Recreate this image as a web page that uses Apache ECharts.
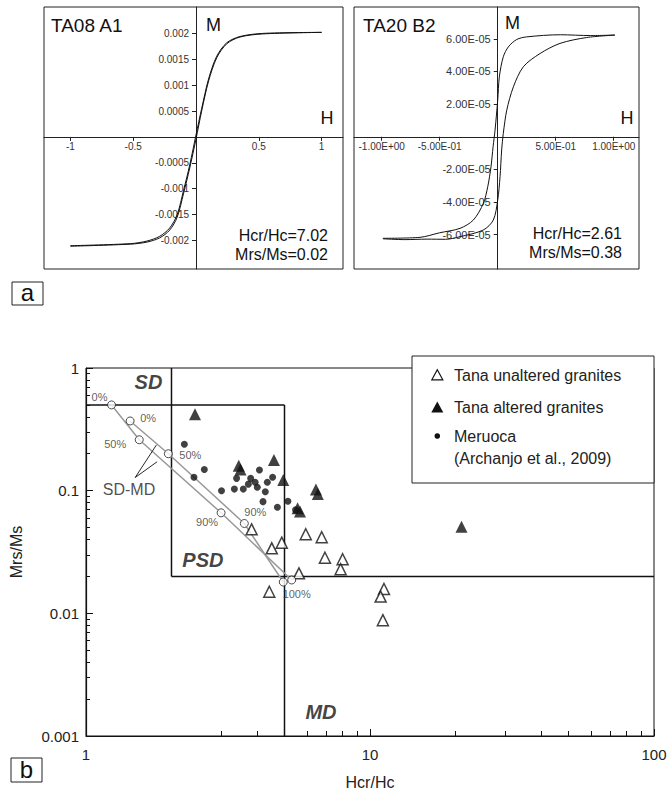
<!DOCTYPE html>
<html><head><meta charset="utf-8">
<script src="https://cdn.jsdelivr.net/npm/echarts@6/dist/echarts.min.js"></script>
<style>html,body{margin:0;padding:0;background:#fff}#c{width:671px;height:795px}</style>
</head><body><div id="c"></div>
<script>
// ---------- Panel a, left: TA08 A1 ----------
const a1UpH  = [1.0, 0.53, 0.35, 0.245, 0.165, 0.10, 0.045, 0, -0.05, -0.10, -0.15, -0.21, -0.29, -0.39, -0.52, -1.0];
const a1UpM  = [0.00202, 0.00200, 0.00194, 0.00182, 0.00156, 0.00112, 0.00055, 0.00004, -0.00054, -0.00104, -0.00150, -0.00176, -0.00192, -0.00201, -0.00206, -0.00210];
const a1LoH  = [-1.0, -0.52, -0.39, -0.29, -0.21, -0.15, -0.10, -0.05, 0, 0.045, 0.10, 0.165, 0.245, 0.35, 0.53, 1.0];
const a1LoM  = [-0.00211, -0.00207, -0.00203, -0.00195, -0.00180, -0.00155, -0.00110, -0.00060, -0.00004, 0.00050, 0.00108, 0.00153, 0.00180, 0.00193, 0.00199, 0.00202];
const a1XTicks = [-1, -0.5, 0.5, 1];
const a1YTicks = [-0.002, -0.0015, -0.001, -0.0005, 0.0005, 0.001, 0.0015, 0.002];

// ---------- Panel a, right: TA20 B2 ----------
const b2UpH = [1.01, 0.80, 0.54, 0.25, 0.164, 0.092, 0.048, 0.014, 0, -0.023, -0.04, -0.058, -0.086, -0.124, -0.21, -0.325, -0.50, -0.67, -0.99];
const b2UpM = [6.23e-5, 6.20e-5, 6.25e-5, 6.12e-5, 5.96e-5, 5.51e-5, 4.90e-5, 3.67e-5, 2.25e-5, 0.41e-5, -0.61e-5, -1.84e-5, -3.06e-5, -4.08e-5, -5.10e-5, -5.61e-5, -5.88e-5, -6.16e-5, -6.22e-5];
const b2LoH = [-0.99, -0.80, -0.61, -0.45, -0.325, -0.124, -0.038, 0, 0.02, 0.034, 0.048, 0.078, 0.135, 0.221, 0.365, 0.537, 0.767, 1.01];
const b2LoM = [-6.25e-5, -6.30e-5, -6.27e-5, -6.28e-5, -6.12e-5, -5.71e-5, -5.10e-5, -3.88e-5, -2.45e-5, -0.81e-5, 0.20e-5, 1.63e-5, 3.06e-5, 4.29e-5, 5.10e-5, 5.72e-5, 6.08e-5, 6.23e-5];
const b2XTicks = [-1, -0.5, 0.5, 1];
const b2YTicks = [-6e-5, -4e-5, -2e-5, 2e-5, 4e-5, 6e-5];

// ---------- Panel b: Day plot ----------
const unaltered = [[3.83,0.0484],[4.51,0.0339],[4.89,0.0377],[5.94,0.0441],[6.76,0.0417],[6.94,0.0284],[8.01,0.0276],[7.88,0.0229],[5.62,0.0212],[4.42,0.0150],[11.2,0.0158],[10.9,0.0137],[11.1,0.0088]];
const altered = [[2.42,0.419],[3.45,0.160],[3.50,0.149],[4.59,0.178],[4.95,0.122],[6.45,0.102],[6.55,0.094],[5.56,0.0718],[5.67,0.0675],[21.0,0.0509]];
const meruoca = [[2.22,0.239],[2.40,0.1286],[2.61,0.149],[3.00,0.100],[3.33,0.103],[3.58,0.103],[3.73,0.113],[3.39,0.126],[3.80,0.126],[4.08,0.1475],[3.94,0.117],[4.01,0.1066],[4.35,0.117],[4.54,0.1286],[4.28,0.098],[4.20,0.0814],[4.72,0.0732],[5.14,0.0819],[5.47,0.0697]];
const mixA = [[1.23,0.50],[1.54,0.26],[2.99,0.066],[5.30,0.0187]];
const mixB = [[1.43,0.37],[1.95,0.20],[3.61,0.054],[4.95,0.018]];
const mixLabelsA = ['0%','50%','90%','100%'];
const mixLabelsB = ['0%','50%','90%',''];
const sdTop = [[1,0.5],[5,0.5]];
const sdRight = [[2,1],[2,0.02]];
const mdLeft = [[5,0.5],[5,0.001]];
const psdBottom = [[2,0.02],[100,0.02]];
const leader = [[1.77,0.236],[1.49,0.128],[1.78,0.172]];
const regionNames = ['SD','PSD','MD'];
const regionPos = [[1.66,0.773],[2.58,0.0272],[6.72,0.00158]];
const mixName = 'SD-MD';
const mixNamePos = [1.417,0.1014];
const xMinorTicks = [3,4,6,7,8,9,20,30,40,50,60,70,80,90];
const yMinorTicks = [0.002,0.003,0.004,0.005,0.006,0.007,0.008,0.009,0.02,0.03,0.04,0.05,0.06,0.07,0.08,0.09,0.2,0.3,0.4,0.5,0.6,0.7,0.8,0.9];

const FONT = "'Liberation Sans', Arial, Helvetica, sans-serif";
const zip = (xs, ys) => xs.map((x, i) => [x, ys[i]]);
const expFmt = v => Number(v).toExponential(2).toUpperCase().replace(/E([+-])(\d)$/, 'E$10$2');

// panel grids (pixel boxes of the frames)
const G0 = {left:44, top:7, width:299, height:262};
const G1 = {left:354, top:7, width:285, height:262};
const R0 = {xmin:-1.21, xmax:1.17, ymin:-0.00255, ymax:0.00251};
const R1 = {xmin:-1.239, xmax:1.218, ymin:-8.1e-5, ymax:7.95e-5};
// offsets that put the axes through zero (inside the frame)
const yOff = (g, r) => -g.width * (0 - r.xmin) / (r.xmax - r.xmin);
const xOff = (g, r) => -g.height * (0 - r.ymin) / (r.ymax - r.ymin);

function panelX(gi, g, r, ticks, fmt) {
  return {type:'value', gridIndex:gi, min:r.xmin, max:r.xmax, position:'bottom', offset:xOff(g, r), splitLine:{show:false},
    axisLine:{onZero:false, lineStyle:{color:'#222', width:1}},
    axisTick:{customValues:ticks, length:4, lineStyle:{color:'#222'}},
    axisLabel:{customValues:ticks, formatter:fmt, fontSize:10, color:'#333', margin:5, fontFamily:FONT}};
}
function panelY(gi, g, r, ticks, fmt, fs) {
  return {type:'value', gridIndex:gi, min:r.ymin, max:r.ymax, position:'left', offset:yOff(g, r), splitLine:{show:false},
    axisLine:{onZero:false, lineStyle:{color:'#222', width:1}},
    axisTick:{customValues:ticks, length:4, lineStyle:{color:'#222'}},
    axisLabel:{customValues:ticks, formatter:fmt, fontSize:fs, color:'#333', margin:7, fontFamily:FONT}};
}
const loop = (gi, data) => ({type:'line', xAxisIndex:gi, yAxisIndex:gi, data:data, symbol:'none', smooth:0.3,
  lineStyle:{color:'#111', width:1}, silent:true, animation:false});
const seg = (data, color, width) => ({type:'line', xAxisIndex:2, yAxisIndex:2, data:data, symbol:'none',
  lineStyle:{color:color, width:width}, silent:true, animation:false, z:2});

const labelOffA = [[-12,-8],[-24,4],[-14,9],[5,14]];
const labelOffB = [[18,-3],[22,1],[11,-11],[0,0]];
const pctLabel = (txt, off) => ({show: !!txt, formatter: txt, position:'inside', offset:off, color:'#333', fontSize:11, fontFamily:FONT});
const mixPoints = mixA.map((v, i) => ({value:v, label:pctLabel(mixLabelsA[i], labelOffA[i])}))
  .concat(mixB.map((v, i) => ({value:v, label:pctLabel(mixLabelsB[i], labelOffB[i])})));

const option = {
  animation:false,
  backgroundColor:'#fff',
  textStyle:{fontFamily:FONT},
  grid:[
    Object.assign({show:true, borderColor:'#222', borderWidth:1}, G0),
    Object.assign({show:true, borderColor:'#222', borderWidth:1}, G1),
    {left:86, top:368, width:568, height:368, show:true, borderColor:'#111', borderWidth:1}
  ],
  xAxis:[
    panelX(0, G0, R0, a1XTicks, v => String(v)),
    panelX(1, G1, R1, b2XTicks, expFmt),
    {type:'log', gridIndex:2, min:1, max:100, logBase:10, position:'bottom', splitLine:{show:false},
      axisLine:{lineStyle:{color:'#111', width:1.2}},
      axisTick:{inside:true, length:7, lineStyle:{color:'#111'}},
      axisLabel:{fontSize:15, color:'#222', margin:11, fontFamily:FONT},
      name:'Hcr/Hc', nameLocation:'middle', nameGap:38, nameTextStyle:{fontSize:16, color:'#222', fontFamily:FONT}},
    {type:'log', gridIndex:2, min:1, max:100, logBase:10, position:'bottom', splitLine:{show:false},
      axisLine:{show:false}, axisLabel:{show:false},
      axisTick:{inside:true, length:5, customValues:xMinorTicks, lineStyle:{color:'#111'}}}
  ],
  yAxis:[
    panelY(0, G0, R0, a1YTicks, v => String(v), 10),
    panelY(1, G1, R1, b2YTicks, expFmt, 11),
    {type:'log', gridIndex:2, min:0.001, max:1, logBase:10, position:'left', splitLine:{show:false},
      axisLine:{lineStyle:{color:'#111', width:1.2}},
      axisTick:{inside:true, length:7, lineStyle:{color:'#111'}},
      axisLabel:{fontSize:15, color:'#222', margin:7, fontFamily:FONT},
      name:'Mrs/Ms', nameLocation:'middle', nameGap:62, nameTextStyle:{fontSize:16, color:'#222', fontFamily:FONT}},
    {type:'log', gridIndex:2, min:0.001, max:1, logBase:10, position:'left', splitLine:{show:false},
      axisLine:{show:false}, axisLabel:{show:false},
      axisTick:{inside:true, length:4, customValues:yMinorTicks, lineStyle:{color:'#111'}}}
  ],
  series:[
    loop(0, zip(a1UpH, a1UpM)),
    loop(0, zip(a1LoH, a1LoM)),
    loop(1, zip(b2UpH, b2UpM)),
    loop(1, zip(b2LoH, b2LoM)),
    seg(sdTop, '#111', 1.5),
    seg(sdRight, '#111', 1.5),
    seg(mdLeft, '#111', 1.5),
    seg(psdBottom, '#111', 1.5),
    seg(mixA, '#999', 1.5),
    seg(mixB, '#999', 1.5),
    seg(leader, '#111', 0.9),
    {type:'scatter', name:'Meruoca', xAxisIndex:2, yAxisIndex:2, data:meruoca, symbol:'circle', symbolSize:7,
      itemStyle:{color:'#111'}, z:4, silent:true},
    {type:'scatter', name:'Tana altered granites', xAxisIndex:2, yAxisIndex:2, data:altered, symbol:'triangle', symbolSize:12,
      itemStyle:{color:'#111'}, z:5, silent:true},
    {type:'scatter', name:'Tana unaltered granites', xAxisIndex:2, yAxisIndex:2, data:unaltered, symbol:'triangle', symbolSize:11,
      itemStyle:{color:'#fff', borderColor:'#111', borderWidth:1.5}, z:5, silent:true},
    {type:'scatter', name:'mixing', xAxisIndex:2, yAxisIndex:2, data:mixPoints, symbol:'circle', symbolSize:8,
      itemStyle:{color:'#fff', borderColor:'#222', borderWidth:1}, z:6, silent:true},
    {type:'scatter', xAxisIndex:2, yAxisIndex:2, symbolSize:1, itemStyle:{color:'transparent'}, silent:true, z:7,
      data: regionPos.map((v, i) => ({value:v, label:{show:true, formatter:regionNames[i], position:'inside',
        fontSize:20, fontWeight:'bold', fontStyle:'italic', color:'#111', fontFamily:FONT}}))},
    {type:'scatter', xAxisIndex:2, yAxisIndex:2, symbolSize:1, itemStyle:{color:'transparent'}, silent:true, z:7,
      data:[{value:mixNamePos, label:{show:true, formatter:mixName, position:'inside', fontSize:16, color:'#222', fontFamily:FONT}}]}
  ],
  graphic:[
    // panel texts
    {type:'text', z:50, style:{text:'TA08 A1', x:51, y:25, font:"19px 'Liberation Sans', Arial", fill:'#111', verticalAlign:'middle'}},
    {type:'text', z:50, style:{text:'M', x:206, y:25, font:"18px 'Liberation Sans', Arial", fill:'#111', verticalAlign:'middle'}},
    {type:'text', z:50, style:{text:'H', x:327, y:118, font:"18px 'Liberation Sans', Arial", fill:'#111', align:'center', verticalAlign:'middle'}},
    {type:'text', z:50, style:{text:'Hcr/Hc=7.02', x:328, y:235, font:"16px 'Liberation Sans', Arial", fill:'#111', align:'right', verticalAlign:'middle'}},
    {type:'text', z:50, style:{text:'Mrs/Ms=0.02', x:328, y:254, font:"16px 'Liberation Sans', Arial", fill:'#111', align:'right', verticalAlign:'middle'}},
    {type:'text', z:50, style:{text:'TA20 B2', x:363, y:25, font:"19px 'Liberation Sans', Arial", fill:'#111', verticalAlign:'middle'}},
    {type:'text', z:50, style:{text:'M', x:505, y:23, font:"18px 'Liberation Sans', Arial", fill:'#111', verticalAlign:'middle'}},
    {type:'text', z:50, style:{text:'H', x:627, y:118, font:"18px 'Liberation Sans', Arial", fill:'#111', align:'center', verticalAlign:'middle'}},
    {type:'text', z:50, style:{text:'Hcr/Hc=2.61', x:622, y:233, font:"16px 'Liberation Sans', Arial", fill:'#111', align:'right', verticalAlign:'middle'}},
    {type:'text', z:50, style:{text:'Mrs/Ms=0.38', x:622, y:252, font:"16px 'Liberation Sans', Arial", fill:'#111', align:'right', verticalAlign:'middle'}},
    // panel letters
    {type:'rect', z:50, shape:{x:12, y:282, width:31, height:23}, style:{fill:'#fff', stroke:'#222', lineWidth:1}},
    {type:'text', z:51, style:{text:'a', x:27.5, y:292, font:"24px 'Liberation Sans', Arial", fill:'#111', align:'center', verticalAlign:'middle'}},
    {type:'rect', z:50, shape:{x:11, y:758, width:31, height:24}, style:{fill:'#fff', stroke:'#222', lineWidth:1}},
    {type:'text', z:51, style:{text:'b', x:26.5, y:769, font:"24px 'Liberation Sans', Arial", fill:'#111', align:'center', verticalAlign:'middle'}},
    // legend box
    {type:'rect', z:100, shape:{x:412, y:356, width:242, height:127}, style:{fill:'#fff', stroke:'#222', lineWidth:1}},
    {type:'polygon', z:101, shape:{points:[[437.3,369.8],[442.8,379.8],[431.8,379.8]]}, style:{fill:'#fff', stroke:'#111', lineWidth:1.2}},
    {type:'polygon', z:101, shape:{points:[[437.3,401.5],[443.3,412.5],[431.3,412.5]]}, style:{fill:'#111'}},
    {type:'circle', z:101, shape:{cx:437.3, cy:436, r:2.8}, style:{fill:'#111'}},
    {type:'text', z:101, style:{text:'Tana unaltered granites', x:454, y:375, font:"16px 'Liberation Sans', Arial", fill:'#222', verticalAlign:'middle'}},
    {type:'text', z:101, style:{text:'Tana altered granites', x:454, y:407, font:"16px 'Liberation Sans', Arial", fill:'#222', verticalAlign:'middle'}},
    {type:'text', z:101, style:{text:'Meruoca', x:454, y:436, font:"16px 'Liberation Sans', Arial", fill:'#222', verticalAlign:'middle'}},
    {type:'text', z:101, style:{text:'(Archanjo et al., 2009)', x:454, y:458, font:"16px 'Liberation Sans', Arial", fill:'#222', verticalAlign:'middle'}}
  ]
};
const chart = echarts.init(document.getElementById('c'), null, {renderer:'svg'});
chart.setOption(option);
</script>
</body></html>
